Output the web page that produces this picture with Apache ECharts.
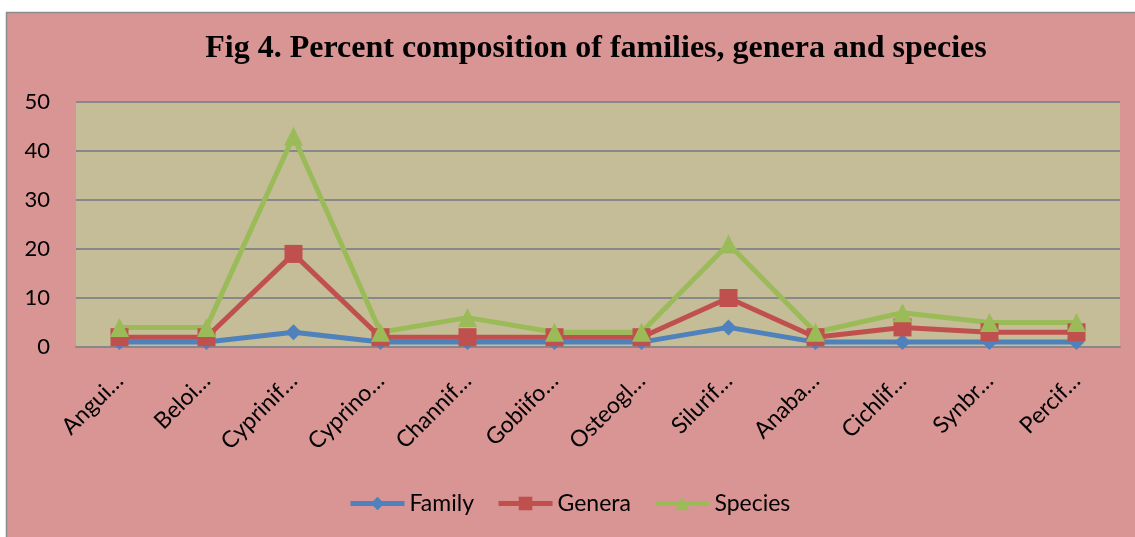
<!DOCTYPE html>
<html>
<head>
<meta charset="utf-8">
<script src="https://cdn.jsdelivr.net/npm/echarts@6/dist/echarts.min.js"></script>
<style>
html,body{margin:0;padding:0;background:#fff;}
#chart{width:1135px;height:537px;}
</style>
</head>
<body>
<div id="chart"></div>
<script>
const categories = ["Angui…","Beloi…","Cyprinif…","Cyprino…","Channif…","Gobiifo…","Osteogl…","Silurif…","Anaba…","Cichlif…","Synbr…","Percif…"];
const family  = [1, 1, 3, 1, 1, 1, 1, 4, 1, 1, 1, 1];
const genera  = [2, 2, 19, 2, 2, 2, 2, 10, 2, 4, 3, 3];
const species = [4, 4, 43, 3, 6, 3, 3, 21, 3, 7, 5, 5];
const yTicks = [0, 10, 20, 30, 40, 50];

const chart = echarts.init(document.getElementById('chart'), null, {renderer:'canvas'});
const labelFont = 'Lato';
chart.setOption({
  backgroundColor: '#ffffff',
  animation: false,
  graphic: [{
    type: 'rect', z: -10, silent: true,
    shape: {x: 6.5, y: 12.5, width: 1140, height: 540},
    style: {fill: '#D99594', stroke: '#8C8C8C', lineWidth: 1.5}
  }],
  title: {
    text: 'Fig 4. Percent composition of families, genera and species',
    left: 591, top: 28, textAlign: 'center',
    textStyle: {fontFamily: 'Liberation Serif', fontWeight: 'bold', fontSize: 32, color: '#000'}
  },
  legend: {
    bottom: 17, left: 343,
    itemWidth: 54, itemHeight: 17, itemGap: 22,
    lineStyle: {width: 5},
    textStyle: {fontFamily: labelFont, fontSize: 23, color: '#000'},
    data: ['Family','Genera','Species']
  },
  grid: {left: 76, right: 15, top: 102, bottom: 190, show: true, backgroundColor: '#C4BD97', borderWidth: 0},
  xAxis: {
    type: 'category', data: categories, boundaryGap: true,
    axisLine: {show: true, lineStyle: {color: '#888', width: 2}},
    axisTick: {show: false},
    axisLabel: {rotate: 45, fontFamily: labelFont, fontSize: 23, color: '#000', margin: 30, interval: 0}
  },
  yAxis: {
    type: 'value', min: yTicks[0], max: yTicks[yTicks.length-1], interval: 10,
    axisLine: {show: false}, axisTick: {show: false},
    splitLine: {lineStyle: {color: '#888', width: 2}},
    axisLabel: {fontFamily: labelFont, fontSize: 22, color: '#000', margin: 26}
  },
  series: [
    {name: 'Family', type: 'line', data: family, symbol: 'diamond', symbolSize: 16,
     lineStyle: {color: '#4F81BD', width: 5}, itemStyle: {color: '#4F81BD'}},
    {name: 'Genera', type: 'line', data: genera, symbol: 'rect', symbolSize: 18,
     lineStyle: {color: '#C0504D', width: 5}, itemStyle: {color: '#C0504D'}},
    {name: 'Species', type: 'line', data: species, symbol: 'triangle', symbolSize: 19,
     lineStyle: {color: '#9BBB59', width: 5}, itemStyle: {color: '#9BBB59'}}
  ]
});
</script>
</body>
</html>
